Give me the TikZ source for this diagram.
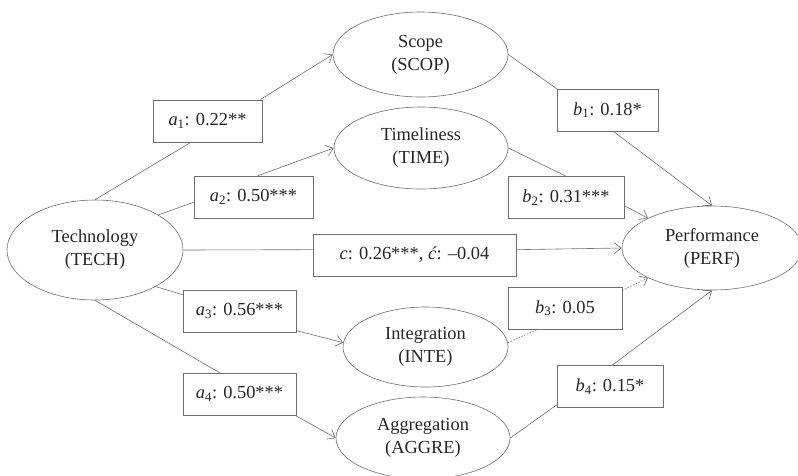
\documentclass[tikz,border=0pt]{standalone}
\usepackage{fontspec}
\setmainfont{Liberation Serif}
\usetikzlibrary{shapes.geometric,arrows.meta}
\definecolor{linegray}{HTML}{6E6E6E}
\definecolor{textgray}{HTML}{262626}
\newcommand{\cf}[2]{\textit{#1}\textsubscript{#2}}

\begin{document}
\begin{tikzpicture}[x=1pt,y=-1pt,
  font=\fontsize{18.4}{23}\selectfont,
  var/.style={draw=linegray, line width=0.6pt, ellipse, inner sep=0pt, align=center, text=textgray},
  coef/.style={draw=linegray, line width=0.6pt, rectangle, inner sep=0pt, minimum height=42pt, text=textgray},
  link/.style={draw=linegray, line width=0.6pt},
  arr/.style={link, -{Straight Barb[length=7pt,width=11pt]}}]
\useasboundingbox (0,0) rectangle (798,475);

\node[var, minimum width=176pt, minimum height=100pt] (tech) at (95,250) {Technology\\(TECH)};
\node[var, minimum width=175pt, minimum height=85pt] (scop) at (420.5,54.5) {Scope\\(SCOP)};
\node[var, minimum width=174pt, minimum height=82pt] (time) at (421,148) {Timeliness\\(TIME)};
\node[var, minimum width=165pt, minimum height=80pt] (inte) at (425.5,347) {Integration\\(INTE)};
\node[var, minimum width=174pt, minimum height=82pt] (aggr) at (423,438) {Aggregation\\(AGGRE)};
\node[var, minimum width=180pt, minimum height=84pt] (perf) at (712,248) {Performance\\(PERF)};

\node[coef, minimum width=109pt] (a1) at (207.5,121) {\cf{a}{1}: 0.22**};
\node[coef, minimum width=119pt] (a2) at (253.5,197) {\cf{a}{2}: 0.50***};
\node[coef, minimum width=203pt] (c) at (414.5,255) {\textit{c}: 0.26***, \textit{ć}: –0.04};
\node[coef, minimum width=113pt] (a3) at (239.5,311) {\cf{a}{3}: 0.56***};
\node[coef, minimum width=113pt] (a4) at (239.5,394) {\cf{a}{4}: 0.50***};
\node[coef, minimum width=101pt] (b1) at (607.5,110) {\cf{b}{1}: 0.18*};
\node[coef, minimum width=116pt] (b2) at (566,197.5) {\cf{b}{2}: 0.31***};
\node[coef, minimum width=114pt] (b3) at (565,308) {\cf{b}{3}: 0.05};
\node[coef, minimum width=106pt] (b4) at (610,386.5) {\cf{b}{4}: 0.15*};

\draw[link] (tech.north) -- (a1.-128);
\draw[arr] (a1.22) -- (scop.west);
\draw[link] (tech.29) -- (a2.185);
\draw[arr] (a2.78) -- (time.west);
\draw[link] (tech.east) -- (c.177);
\draw[arr] (c.3) -- (perf.west);
\draw[link] (tech.-31) -- (a3.164);
\draw[arr] (a3.-19) -- (inte.177);
\draw[link] (tech.south) -- (a4.133);
\draw[arr] (a4.-21.5) -- (aggr.west);

\draw[link] (scop.east) -- (b1.north west);
\draw[arr] (b1.-75) -- (perf.north);
\draw[link] (time.east) -- (b2.north);
\draw[arr] (b2.-8) -- (perf.155);
\draw[link, dash pattern=on 1.5pt off 1.5pt] (inte.3) -- (b3.218);
\draw[arr, dash pattern=on 1.5pt off 1.5pt] (b3.17) -- (perf.205);
\draw[link] (aggr.east) -- (b4.199);
\draw[arr] (b4.84) -- (perf.south);
\end{tikzpicture}
\end{document}
